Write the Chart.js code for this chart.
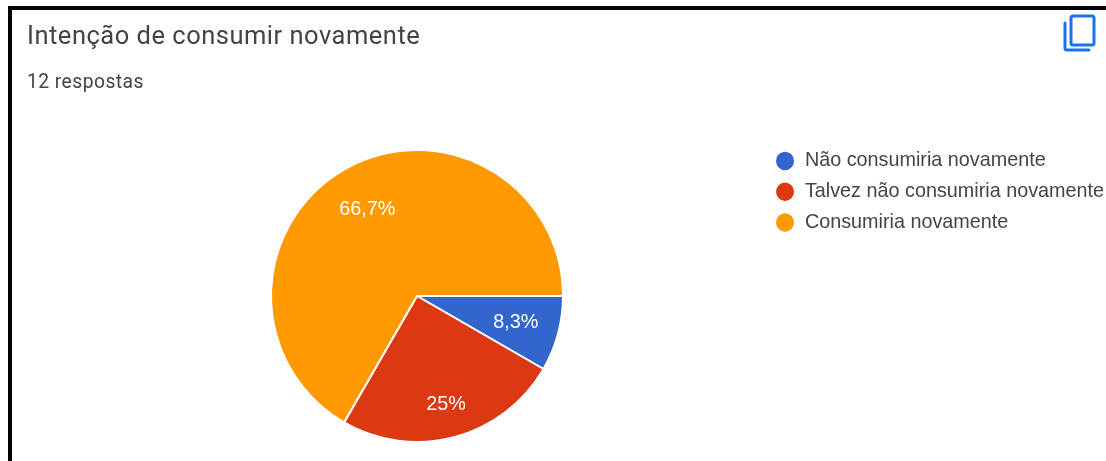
<!DOCTYPE html>
<html lang="pt"><head><meta charset="utf-8">
<style>
html,body{margin:0;padding:0;background:#fff;width:1106px;height:461px;overflow:hidden;position:relative}
#frame{position:absolute;left:8px;top:6px;width:1098px;height:455px;border-left:4px solid #000;border-top:4px solid #000;box-sizing:border-box}
#title{position:absolute;left:27px;top:20px;font:25.5px Roboto;letter-spacing:.5px;color:#444;white-space:nowrap}
#sub{position:absolute;left:27px;top:70px;font:19.3px Roboto;letter-spacing:.45px;color:#444;white-space:nowrap}
#icon{position:absolute;left:1061px;top:13px}
canvas{position:absolute;left:0;top:0}
</style></head><body>
<div id="frame"></div>
<div style="position:absolute;left:0;top:0;width:1106px;height:461px"><canvas id="c" width="1106" height="461"></canvas></div>
<div id="title">Intenção de consumir novamente</div>
<div id="sub">12 respostas</div>
<svg id="icon" width="36" height="40" viewBox="0 0 36 40" fill="none" stroke="#1a73e8" stroke-width="3" stroke-linejoin="round" stroke-linecap="round">
<rect x="10" y="3" width="23" height="29" rx="2"/>
<path d="M4 10 V35 a2 2 0 0 0 2 2 H28"/>
</svg>
<script src="https://cdn.jsdelivr.net/npm/chart.js@4"></script>
<script>
const categories = ["Não consumiria novamente","Talvez não consumiria novamente","Consumiria novamente"];
const responses = [1,3,8];
const percentLabels = ["8,3%","25%","66,7%"];
const sliceColors = ["#3366cc","#dc3912","#ff9900"];

const labelRadius = [0.70,0.77,0.68];
const sliceLabels = {
  id:'sliceLabels',
  afterDatasetsDraw(chart){
    const {ctx} = chart;
    const arcs = chart.getDatasetMeta(0).data;
    ctx.save();
    ctx.font = '19.8px "Liberation Sans"';
    ctx.fillStyle = '#fff';
    ctx.textAlign = 'center';
    ctx.textBaseline = 'middle';
    arcs.forEach((a,i)=>{
      const mid = (a.startAngle+a.endAngle)/2;
      const r = a.outerRadius*labelRadius[i];
      ctx.fillText(percentLabels[i], a.x+Math.cos(mid)*r, a.y+Math.sin(mid)*r);
    });
    ctx.restore();
  }
};

new Chart(document.getElementById('c'),{
  type:'pie',
  data:{labels:categories,datasets:[{data:responses,backgroundColor:sliceColors,borderColor:'#fff',borderWidth:2,radius:146}]},
  options:{
    responsive:false,animation:false,rotation:90,
    layout:{padding:{left:70,top:140,right:-8,bottom:9}},
    plugins:{
      tooltip:{enabled:false},
      legend:{position:'right',align:'start',
        labels:{usePointStyle:true,pointStyle:'circle',pointStyleWidth:20,boxHeight:14.5,padding:11,color:'#444',font:{family:'"Liberation Sans"',size:19.8}}
      }
    }
  },
  plugins:[sliceLabels]
});
</script>
</body></html>
